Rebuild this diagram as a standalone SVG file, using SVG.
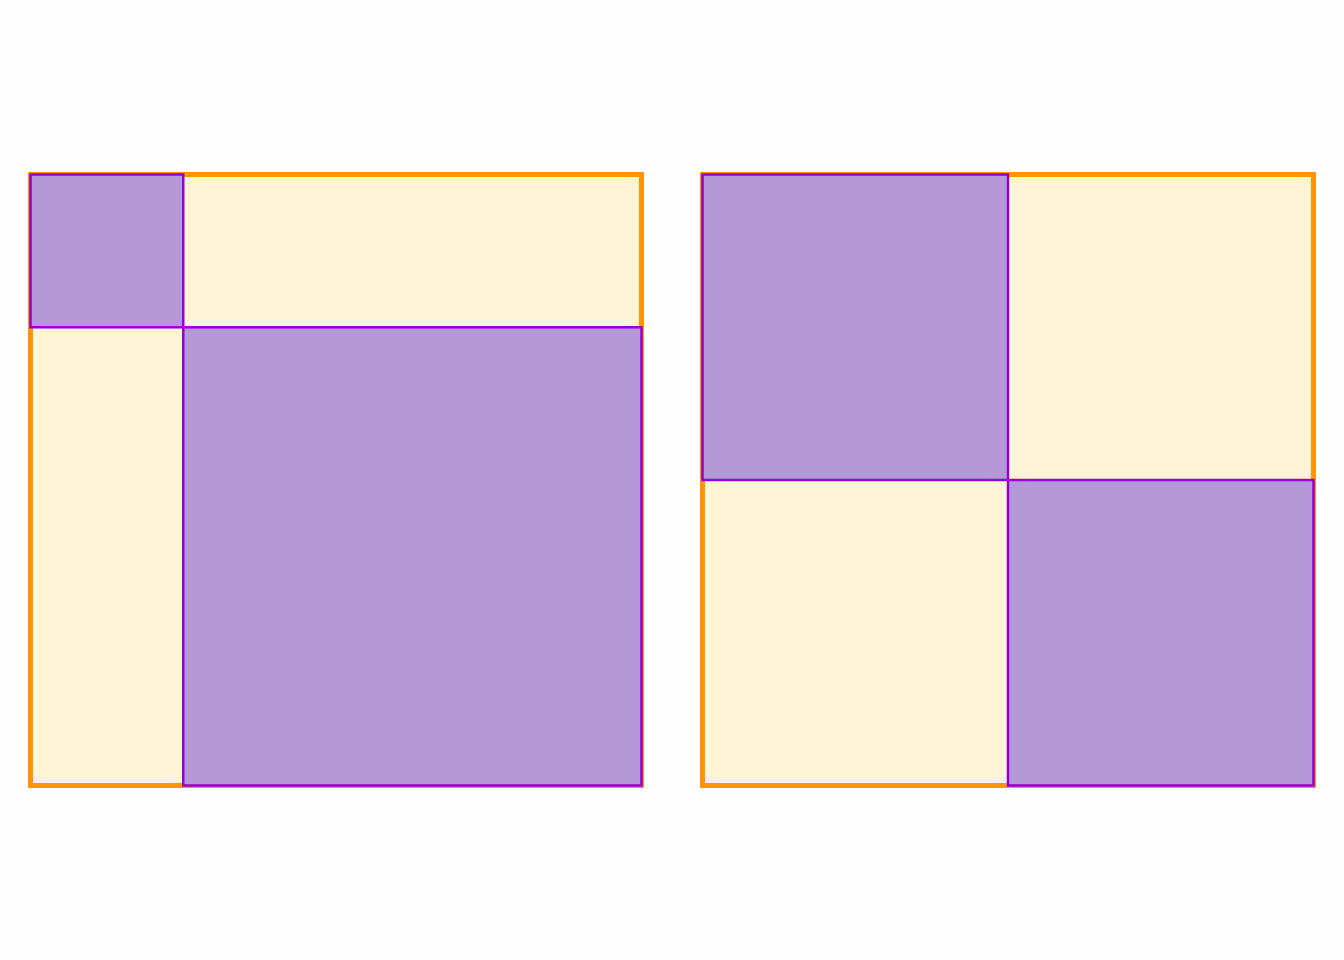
<svg xmlns="http://www.w3.org/2000/svg" width="1344" height="960" viewBox="0 0 1344 960">
<style>
.outer{fill:#fff5d6;stroke:#ff9408;stroke-width:5}
.sq{fill:#b497d6;stroke:#9400d3;stroke-width:2.5}
</style>
<rect width="1344" height="960" fill="#fefefe"/>
<g id="left">
<rect class="outer" x="30.5" y="174.5" width="611" height="611"/>
<rect class="sq" x="30.5" y="174.5" width="152.75" height="152.75"/>
<rect class="sq" x="183.25" y="327.25" width="458.25" height="458.25"/>
</g>
<g id="right">
<rect class="outer" x="702.5" y="174.5" width="611" height="611"/>
<rect class="sq" x="702.5" y="174.5" width="305.5" height="305.5"/>
<rect class="sq" x="1008" y="480" width="305.5" height="305.5"/>
</g>
</svg>
